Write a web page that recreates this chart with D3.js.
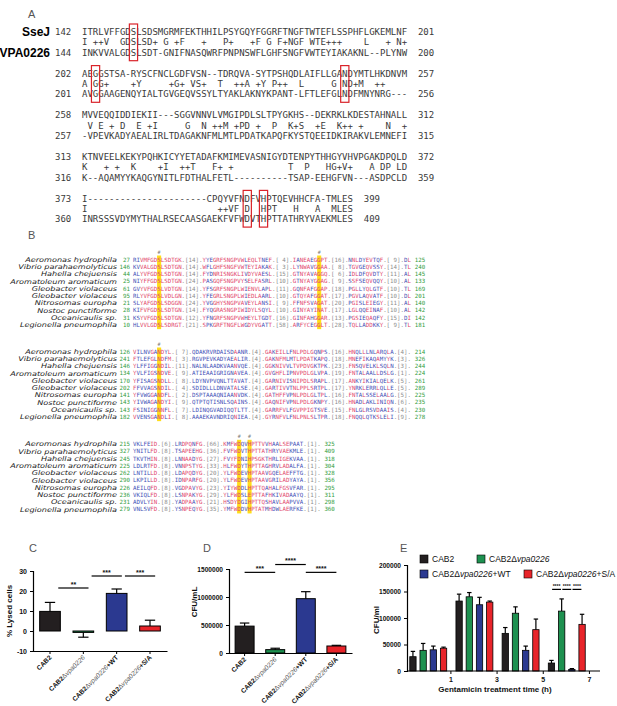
<!DOCTYPE html>
<html><head><meta charset="utf-8">
<script src="https://cdnjs.cloudflare.com/ajax/libs/d3/7.8.5/d3.min.js"></script>
<style>html,body{margin:0;padding:0;background:#fff;} svg{display:block} text{white-space:pre}</style>
</head><body>
<svg id="fig" width="617" height="706" xmlns="http://www.w3.org/2000/svg"></svg>
<script>
// ================= DATA =================
// Panel A: pairwise alignment SseJ (query) vs VPA0226 (subject)
const aQuery = [
"ITRLVFFGDSLSDSMGRMFEKTHHILPSYGQYFGGRFTNGFTWTEFLSSPHFLGKEMLNF",
"AEGGSTSA-RYSCFNCLGDFVSN--TDRQVA-SYTPSHQDLAIFLLGANDYMTLHKDNVM",
"MVVEQQIDDIEKII---SGGVNNVLVMGIPDLSLTPYGKHS--DEKRKLKDESTAHNALL",
"KTNVEELKEKYPQHKICYYETADAFKMIMEVASNIGYDTENPYTHHGYVHVPGAKDPQLD",
"I----------------------CPQYVFNDFVHPTQEVHHCFA-TMLES"];
const aMatch = [
"I ++V  GDSLSD+ G +F   +   P+   +F G F+NGF WTE+++    L   + N+",
"A GG+    +Y     +G+ VS+  T  ++A +Y P++  L     G ND+M  ++    ",
" V E + D  E +I     G  N ++M +PD +  P  K+S  +E  K++ +    N  +",
"K   + +  K    +I  ++T   F+ +          T  P   HG+V+   A DP LD",
"I                        ++VF D  HPT   H   A  MLES"];
const aSubject = [
"INKVVALGDSLSDT-GNIFNASQWRFPNPNSWFLGHFSNGFVWTEYIAKAKNL--PLYNW",
"AVGGAAGENQYIALTGVGEQVSSYLTYAKLAKNYKPANT-LFTLEFGLNDFMNYNRG---",
"-VPEVKADYAEALIRLTDAGAKNFMLMTLPDATKAPQFKYSTQEEIDKIRAKVLEMNEFI",
"K--AQAMYYKAQGYNITLFDTHALFETL----------TSAP-EEHGFVN---ASDPCLD",
"INRSSSVDYMYTHALRSECAASGAEKFVFWDVTHPTTATHRYVAEKMLES"];
const aQueryStart = [142, 202, 258, 313, 373];
const aQueryEnd = [201, 257, 312, 372, 399];
const aSubjectStart = [144, 201, 257, 316, 360];
const aSubjectEnd = [200, 256, 315, 359, 409];
const aBoxCols = [[9], [2, 48], [], [], [30, 33]];
const aNames = ["SseJ", "VPA0226"];

// Panel B: multiple alignment (segments; numbers = unaligned stretch lengths)
const bSpecies = ["Aeromonas hydrophila","Vibrio parahaemolyticus","Hahella chejuensis","Aromatoleum aromaticum",
  "Gleobacter violaceus","Gleobacter violaceus","Nitrosomas europha","Nostoc punctiforme","Oceanicaulis sp.","Legionella pneumophila"];
const b1Start = [27,146,44,25,61,95,21,28,31,10];
const b1End = [125,240,145,133,169,201,140,142,142,181];
const b1Seq = [
["RIVMFGDSLSDTGK",14,"YYEGRFSNGPVWLEQLTNEF",4,"IANEAEGGPT",16,"NNLDYEVTQF",9,"DL"],
["KVVALGDSLSDTGN",14,"WFLGHFSNGFVWTEYIAKAK",3,"LYNWAVGGAA",8,"TGVGEQVSSY",14,"TL"],
["ALYVFGDSLSDTGN",14,"FYDNRISNGKLIVDYVAESL",15,"GTNYAVAGGQ",6,"IDLDFQVDTY",11,"AL"],
["NIYFFGDSLSDTGN",24,"PASGQFSNGPVYSELFASRL",10,"GTNYAYGGAG",9,"SSFSEQVQQY",10,"AL"],
["GVYVFGDSLVDTGN",14,"YFSGRFSNGPLWIENVLAPL",11,"GQNFAFGGAP",18,"PGLLYQLGTF",10,"TL"],
["RLYVFGDSLVDLGN",14,"YFEGRLSNGPLWIEDLAARL",10,"GTQYAFGGAT",17,"PGVLAQVATF",10,"DL"],
["SLYAFGDSLSDGGN",24,"YVGGHYSNGPVAVEYLANSI",9,"FFNFSVAGAT",20,"PGISLEIEGY",11,"AL"],
["KIFVFGDSLSDTGN",14,"FYQGRASNGPIWIDYLSQYL",10,"GINYAYINAT",17,"LGLQQEINAF",10,"AL"],
["KSYVFGDSLSDTGN",12,"YFNGRFSNGPVWHEYLTGDT",16,"GINFAHGGAR",13,"PGSIEQAQFY",15,"DI"],
["HLVVLGDSLSDRGT",21,"SPKGRFTNGFLWGDYVGATT",58,"ARFYCEGGLT",28,"TQLLADDKKY",9,"TL"]];
const b2Start = [126,241,146,134,170,202,141,143,143,182];
const b2End = [214,326,244,224,261,289,225,235,230,278];
const b2Seq = [
["VILNVGANDYL",7,"QDAKRVRDAISDAANR",4,"GAKEILLFNLPDLGQNPS",16,"HNQLLLNLARQLA",4],
["FTLEFGLNDFM",3,"RGVPEVKADYAEALIR",4,"GAKNFMLMTLPDATKAPQ",18,"MNEFIKAQAMYYK",3],
["YLFFIGGNDIL",11,"NALNLAADKVAANVQE",4,"GGKNIVVLTVPDVGKTPK",23,"FNSQVELKLSQLN",3],
["YVLFIGSNDVE",9,"ATIEAAIGRIGNAVEA",4,"GVGHFLIPNVPDLGLVPA",19,"FNTALAALLDSLG",1],
["YFISAGSNDLL",8,"LDYNVPVQNLTTAVAT",4,"GARNIVISNIPDLSRAPL",17,"ANKYIKIALQELK",5],
["FFVVAGSNDIL",4,"SDIDLLLDNVATALSE",4,"GARTIVVTNLPPLSRTPL",17,"YNRKLERRLQLLE",5],
["YFVWGGANDFL",2,"DSPTAAAQNIAANVDK",4,"GATHFFVPNLPDLGLTPL",16,"FNTALSSELAALG",5],
["YIVWAGANDYI",9,"QTPTQTISNLSQAINS",4,"GAQNIFVPNLPDLGKNPY",16,"HNADLAKLINIQN",6],
["FSINIGGNNFL",7,"LDINQGVADIQQTLTT",4,"GARRFVLFGVPPIGTSVE",15,"FNLGLRSVDAAIS",4],
["VVENSGANDLI",8,"AAAEKAVNDRIQNIEA",4,"GYRNFVLFNLPNLSLTPR",18,"FNQQLQTKSLELI",9]];
const b3Start = [215,327,245,225,262,290,226,236,231,279];
const b3End = [325,409,318,304,328,356,295,311,298,360];
const b3Seq = [
["VKLFEID",6,"LRDPQNFG",66,"KMFWDQVHPTTVVHAALSEPAAT",1],
["YNITLFD",8,"TSAPEEHG",36,"FVFWDVTHPTTATHRYVAEKMLE",1],
["TKVTHIN",8,"LNNAADYG",27,"FVYFDNIHPSGKTHRLIGEKVAA",1],
["LDLRTFD",8,"VNNPSTYG",33,"HLFWDYTHPTTAGHRVLADALFA",1],
["LNTILLD",8,"LDAPQDYG",20,"YLFWDEVHPTAAVGQELAEFFTG",1],
["LKPILLD",8,"IDNPARFG",20,"YLFWDEVHPTAAVGRILADYAYA",1],
["AEILQFD",8,"VGDPAVYG",23,"YIYWDDLHPTTQAHALFGSVFAR",1],
["VKIQLFD",8,"LSNPAKYG",29,"YLFWDSLEPTTAFHKIVADAAYQ",1],
["ADVLYIN",8,"YADPAAYG",21,"HSDYDGIHPTTQSHAVLAAPVVA",1],
["VNLSVFD",8,"YSNPEQYG",35,"YMFWDDVHPTATMHDWLAERFKE",1]];
// marked columns: [item index in row, position in that segment]
const b1Marks = [[0,7],[4,7]];
const b2Marks = [[0,7]];
const b3Marks = [[4,4],[4,7]];

// Panel C
const strains = ["CAB2","CAB2Δvpa0226","CAB2Δvpa0226+WT","CAB2Δvpa0226+S/A"];
const cLysed = [9.8, -0.7, 18.8, 2.5];
const cLysedErr = [4.5, 2.4, 2.2, 2.9];
const cTicks = [-10, 0, 10, 20, 30];
const cSig = [["**",0,1,21.5],["***",1,2,27.5],["***",2,3,27.5]];
// Panel D
const dCFU = [480000, 60000, 970000, 125000];
const dCFUErr = [55000, 25000, 125000, 12000];
const dTicks = [0, 500000, 1000000, 1500000];
const dSig = [["***",0,1,1440000],["****",1,2,1580000],["****",2,3,1440000]];
// Panel E
const eTimes = ["1","3","5","7"];
const eCAB2 = [27000, 132000, 71000, 15000];
const eCAB2Err = [10000, 13000, 11000, 5000];
const eDelta = [39000, 140000, 109000, 113000];
const eDeltaErr = [13000, 8000, 12000, 23000];
const eWT = [40000, 125000, 39000, 3000];
const eWTErr = [7000, 14000, 8000, 1500];
const eSA = [43000, 130000, 78000, 88000];
const eSAErr = [2000, 2000, 20000, 19000];
const eTicks = [0, 50000, 100000, 150000, 200000];
const eSig = [["****","7",0,1,154000],["****","7",1,2,154000],["****","7",2,3,154000]];

// ================= DRAWING =================
const SANS = "'Liberation Sans', Arial, sans-serif";
const MONO = "'DejaVu Sans Mono', monospace";
const barColors = ["#231f20", "#1e9150", "#2b3990", "#e8242a"];
const svg = d3.select("#fig");
svg.append("rect").attr("width", 617).attr("height", 706).attr("fill", "#fff");

function panelLabel(t, x, y) {
  svg.append("text").attr("x", x).attr("y", y).attr("font-family", SANS).attr("font-size", 11)
    .attr("fill", "#555").text(t);
}
panelLabel("A", 28, 18); panelLabel("B", 28, 239); panelLabel("C", 29, 552);
panelLabel("D", 203, 552); panelLabel("E", 400, 552);

// ---------- Panel A ----------
const aCW = 9 * 0.60205;
const aX = d3.scaleLinear().domain([0, 1]).range([82, 82 + aCW]);
const aBlockY = d3.scaleLinear().domain([0, 1]).range([32, 32 + 41.6]);
const aRowOff = [0, 10.3, 20.7];
const gA = svg.append("g").attr("font-family", MONO).attr("font-size", 9).attr("fill", "#3a3a3a");
aQuery.forEach((q, b) => {
  const y0 = aBlockY(b);
  const rows = [q, aMatch[b], aSubject[b]];
  rows.forEach((s, r) => {
    gA.append("text").attr("x", aX(0)).attr("y", y0 + aRowOff[r]).attr("dy", "0.35em")
      .attr("xml:space", "preserve").text(s);
  });
  gA.append("text").attr("x", 55).attr("y", y0).attr("dy", "0.35em").text(aQueryStart[b]);
  gA.append("text").attr("x", 55).attr("y", y0 + aRowOff[2]).attr("dy", "0.35em").text(aSubjectStart[b]);
  gA.append("text").attr("x", aX(q.length + 2)).attr("y", y0).attr("dy", "0.35em").text(aQueryEnd[b]);
  gA.append("text").attr("x", aX(aSubject[b].length + 2)).attr("y", y0 + aRowOff[2]).attr("dy", "0.35em").text(aSubjectEnd[b]);
  aBoxCols[b].forEach(c => {
    svg.append("rect").attr("x", aX(c) - 1.4).attr("y", y0 - 8).attr("width", aCW + 2.8)
      .attr("height", aRowOff[2] + 16).attr("fill", "none").attr("stroke", "#d9232a").attr("stroke-width", 1.2);
  });
});
svg.append("text").attr("x", 50).attr("y", aBlockY(0)).attr("dy", "0.35em").attr("text-anchor", "end")
  .attr("font-family", SANS).attr("font-weight", "bold").attr("font-size", 12).text(aNames[0]);
svg.append("text").attr("x", 50).attr("y", aBlockY(0) + aRowOff[2]).attr("dy", "0.35em").attr("text-anchor", "end")
  .attr("font-family", SANS).attr("font-weight", "bold").attr("font-size", 12).text(aNames[1]);

// ---------- Panel B ----------
const bFS = 5.78;
const bCW = bFS * 0.60205;
const bX = d3.scaleLinear().domain([0, 1]).range([133, 133 + bCW]);
const bRowGap = 7.25;
const bBlocks = [
  {seq: b1Seq, start: b1Start, end: b1End, marks: b1Marks, y0: 259.7},
  {seq: b2Seq, start: b2Start, end: b2End, marks: b2Marks, y0: 351.7},
  {seq: b3Seq, start: b3Start, end: b3End, marks: b3Marks, y0: 444}];
const RED = "#e2476c", BLUE = "#3f4fb6", GRAY = "#8c8c8c", GREEN = "#2f9c3c";

bBlocks.forEach(blk => {
  const rows = blk.seq;
  const widths = rows[0].map((v, i) => typeof v === "number" ? d3.max(rows, r => String(r[i]).length) : 0);
  const itemOffset = [];
  const built = rows.map(r => {
    let chars = [], kinds = [];
    r.forEach((v, i) => {
      itemOffset[i] = chars.length;
      if (typeof v === "number") {
        const s = ".[" + String(v).padStart(widths[i], " ") + "].";
        for (const ch of s) { chars.push(ch); kinds.push("sep"); }
      } else {
        for (const ch of v) { chars.push(ch); kinds.push("res"); }
      }
    });
    return {chars, kinds};
  });
  const len = built[0].chars.length;
  const colColor = [];
  for (let c = 0; c < len; c++) {
    if (built[0].kinds[c] !== "res") { colColor[c] = GRAY; continue; }
    const cnt = d3.rollup(built, v => v.length, d => d.chars[c]);
    const mx = d3.max(cnt.values());
    colColor[c] = mx >= 5 ? RED : BLUE;
  }
  const yTop = blk.y0, nRows = rows.length;
  const markCols = blk.marks.map(m => itemOffset[m[0]] + m[1]);
  markCols.forEach(c => {
    svg.append("rect").attr("x", bX(c) - 0.3).attr("y", yTop - 4.2).attr("width", bCW + 0.6)
      .attr("height", (nRows - 1) * bRowGap + 8.4).attr("fill", "#ffdd1a");
    svg.append("text").attr("x", bX(c) + bCW / 2).attr("y", yTop - 7.3).attr("dy", "0.35em")
      .attr("text-anchor", "middle").attr("font-family", MONO).attr("font-size", 5).attr("fill", "#777").text("#");
  });
  built.forEach((row, r) => {
    const y = yTop + r * bRowGap;
    svg.append("text").attr("transform", `translate(117,${y}) scale(1.25,1)`).attr("dy", "0.35em").attr("text-anchor", "end")
      .attr("font-family", "'DejaVu Sans', sans-serif").attr("font-style", "italic").attr("font-size", 6.5)
      .attr("fill", "#222").text(bSpecies[r]);
    svg.append("text").attr("x", bX(0) - bCW * 0.9).attr("y", y).attr("dy", "0.35em").attr("text-anchor", "end")
      .attr("font-family", MONO).attr("font-size", bFS).attr("fill", GREEN).text(blk.start[r]);
    const t = svg.append("text").attr("x", bX(0)).attr("y", y).attr("dy", "0.35em")
      .attr("font-family", MONO).attr("font-size", bFS).attr("xml:space", "preserve");
    let runStart = 0;
    for (let c = 1; c <= len; c++) {
      const colA = row.kinds[runStart] === "res" ? colColor[runStart] : GRAY;
      const colB = c < len ? (row.kinds[c] === "res" ? colColor[c] : GRAY) : null;
      if (colB !== colA) {
        t.append("tspan").attr("fill", colA).text(row.chars.slice(runStart, c).join(""));
        runStart = c;
      }
    }
    svg.append("text").attr("x", bX(len + 1)).attr("y", y).attr("dy", "0.35em")
      .attr("font-family", MONO).attr("font-size", bFS).attr("fill", GREEN).text(blk.end[r]);
  });
});

// ---------- helpers for bar charts ----------
function styleAxis(g, fs) {
  g.selectAll("path.domain").attr("stroke", "#000").attr("stroke-width", 1.2);
  g.selectAll(".tick line").attr("stroke", "#000").attr("stroke-width", 1);
  g.selectAll(".tick text").attr("font-family", SANS).attr("font-weight", "bold").attr("font-size", fs).attr("fill", "#111");
}
function strainLabel(g, x, y, name) {
  const m = name.match(/^(CAB2)(Δ)?(vpa0226)?(.*)$/);
  const t = g.append("text").attr("transform", `translate(${x},${y}) rotate(-45)`)
    .attr("text-anchor", "end").attr("font-family", SANS).attr("font-size", 6.6).attr("fill", "#111");
  t.append("tspan").attr("font-weight", "bold").text(m[1]);
  if (m[2]) t.append("tspan").attr("fill", "#555").text(m[2]);
  if (m[3]) t.append("tspan").attr("font-style", "italic").attr("fill", "#555").text(m[3]);
  if (m[4]) t.append("tspan").attr("font-weight", "bold").text(m[4]);
}
function errBar(g, cx, v0, v1, cap) {
  g.append("line").attr("x1", cx).attr("x2", cx).attr("y1", v0).attr("y2", v1).attr("stroke", "#000").attr("stroke-width", 1.2);
  g.append("line").attr("x1", cx - cap / 2).attr("x2", cx + cap / 2).attr("y1", v1).attr("y2", v1).attr("stroke", "#000").attr("stroke-width", 1.2);
}
function sigLine(g, x1, x2, y, label, fs) {
  g.append("line").attr("x1", x1).attr("x2", x2).attr("y1", y).attr("y2", y).attr("stroke", "#000").attr("stroke-width", 1.2);
  g.append("text").attr("x", (x1 + x2) / 2).attr("y", y - 1.5).attr("text-anchor", "middle")
    .attr("font-family", SANS).attr("font-weight", "bold").attr("font-size", fs).attr("fill", "#111").text(label);
}

// ---------- Panel C ----------
{
  const g = svg.append("g");
  const x = d3.scaleBand().domain(strains).range([33, 167]).paddingInner(0.38).paddingOuter(0.2);
  const y = d3.scaleLinear().domain([-10, 30]).range([651, 571]);
  const bw = x.bandwidth();
  strains.forEach((s, i) => {
    const v = cLysed[i];
    g.append("rect").attr("x", x(s)).attr("y", y(Math.max(0, v))).attr("width", bw)
      .attr("height", Math.abs(y(v) - y(0))).attr("fill", barColors[i]).attr("stroke", "#000").attr("stroke-width", 1);
    const e = v >= 0 ? v + cLysedErr[i] : v - cLysedErr[i];
    errBar(g, x(s) + bw / 2, y(v), y(e), bw * 0.5);
  });
  const ax = g.append("g").attr("transform", "translate(33,0)")
    .call(d3.axisLeft(y).tickValues(cTicks).tickSize(3).tickFormat(d => String(d)));
  styleAxis(ax, 7);
  const bx = g.append("g").attr("transform", `translate(0,${y(-10)})`)
    .call(d3.axisBottom(x).tickSize(3).tickSizeOuter(0).tickFormat(""));
  styleAxis(bx, 7);
  strains.forEach(s => strainLabel(g, x(s) + bw / 2 + 2, y(-10) + 7, s));
  cSig.forEach(([lab, a, b, v]) => sigLine(g, x(strains[a]) + bw * 0.9, x(strains[b]) + bw * 0.75, y(v), lab, 7));
  g.append("text").attr("transform", `translate(12,611) rotate(-90)`).attr("text-anchor", "middle")
    .attr("font-family", SANS).attr("font-weight", "bold").attr("font-size", 8).attr("fill", "#111").text("% Lysed cells");
}

// ---------- Panel D ----------
{
  const g = svg.append("g");
  const x = d3.scaleBand().domain(strains).range([229, 352]).paddingInner(0.38).paddingOuter(0.2);
  const y = d3.scaleLinear().domain([0, 1500000]).range([653, 569]);
  const bw = x.bandwidth();
  strains.forEach((s, i) => {
    const v = dCFU[i];
    g.append("rect").attr("x", x(s)).attr("y", y(v)).attr("width", bw).attr("height", y(0) - y(v))
      .attr("fill", barColors[i]).attr("stroke", "#000").attr("stroke-width", 1);
    errBar(g, x(s) + bw / 2, y(v), y(v + dCFUErr[i]), bw * 0.5);
  });
  const ax = g.append("g").attr("transform", "translate(229,0)")
    .call(d3.axisLeft(y).tickValues(dTicks).tickSize(3).tickFormat(d => String(d)));
  styleAxis(ax, 6.6);
  const bx = g.append("g").attr("transform", `translate(0,${y(0)})`)
    .call(d3.axisBottom(x).tickSize(3).tickSizeOuter(0).tickFormat(""));
  styleAxis(bx, 7);
  strains.forEach(s => strainLabel(g, x(s) + bw / 2 + 2, y(0) + 7, s));
  dSig.forEach(([lab, a, b, v]) => sigLine(g, x(strains[a]) + bw * 0.5, x(strains[b]) + bw * 0.5, y(v), lab, 7));
  g.append("text").attr("transform", `translate(197,602) rotate(-90)`).attr("text-anchor", "middle")
    .attr("font-family", SANS).attr("font-weight", "bold").attr("font-size", 8).attr("fill", "#111").text("CFU/mL");
}

// ---------- Panel E ----------
{
  const g = svg.append("g");
  const series = [eCAB2, eDelta, eWT, eSA];
  const seriesErr = [eCAB2Err, eDeltaErr, eWTErr, eSAErr];
  const x0 = d3.scaleBand().domain(eTimes).range([407, 588]).paddingInner(0.2).paddingOuter(0.06);
  const x1 = d3.scaleBand().domain(d3.range(4)).range([0, x0.bandwidth()]).paddingInner(0.38);
  const y = d3.scaleLinear().domain([0, 200000]).range([671, 565]);
  const bw = x1.bandwidth();
  eTimes.forEach((t, ti) => {
    series.forEach((arr, si) => {
      const xx = x0(t) + x1(si), v = arr[ti];
      g.append("rect").attr("x", xx).attr("y", y(v)).attr("width", bw).attr("height", y(0) - y(v))
        .attr("fill", barColors[si]).attr("stroke", "#000").attr("stroke-width", 0.8);
      errBar(g, xx + bw / 2, y(v), y(v + seriesErr[si][ti]), bw * 0.7);
    });
  });
  const ax = g.append("g").attr("transform", "translate(407,0)")
    .call(d3.axisLeft(y).tickValues(eTicks).tickSize(3).tickFormat(d => String(d)));
  styleAxis(ax, 6.6);
  // x axis: tick labels sit half a group to the right of each group (as in the reference)
  const off = x0.bandwidth() / 2 + x0.step() * 0.48;
  const xTick = d3.scalePoint().domain(eTimes).range([x0(eTimes[0]) + off, x0(eTimes[3]) + off]);
  g.append("line").attr("x1", 407).attr("x2", 600).attr("y1", y(0)).attr("y2", y(0)).attr("stroke", "#000").attr("stroke-width", 1.2);
  const bx = g.append("g").attr("transform", `translate(0,${y(0)})`)
    .call(d3.axisBottom(xTick).tickSize(3).tickSizeOuter(0));
  bx.select("path.domain").remove();
  styleAxis(bx, 7);
  eSig.forEach(([lab, t, a, b, v]) => sigLine(g, x0(t) + x1(a) + bw * 0.6, x0(t) + x1(b) + bw * 0.4, y(v), lab, 5));
  g.append("text").attr("x", 495).attr("y", 692).attr("text-anchor", "middle")
    .attr("font-family", SANS).attr("font-weight", "bold").attr("font-size", 8).attr("fill", "#111")
    .text("Gentamicin treatment time (h)");
  g.append("text").attr("transform", `translate(379,620) rotate(-90)`).attr("text-anchor", "middle")
    .attr("font-family", SANS).attr("font-weight", "bold").attr("font-size", 8).attr("fill", "#111").text("CFU/ml");
  // legend
  const leg = [[420, 559], [477, 559], [420, 574], [524, 574]];
  strains.forEach((s, i) => {
    const [lx, ly] = leg[i];
    g.append("rect").attr("x", lx).attr("y", ly - 4).attr("width", 8).attr("height", 8).attr("fill", barColors[i]).attr("stroke", "#000").attr("stroke-width", 0.6);
    const m = s.match(/^(CAB2)(Δ)?(vpa0226)?(.*)$/);
    const t = g.append("text").attr("x", lx + 12).attr("y", ly).attr("dy", "0.35em")
      .attr("font-family", SANS).attr("font-size", 8.5).attr("fill", "#111");
    t.append("tspan").text(m[1] + (m[2] || ""));
    if (m[3]) t.append("tspan").attr("font-style", "italic").text(m[3]);
    if (m[4]) t.append("tspan").text(m[4]);
  });
}
</script>
</body></html>
